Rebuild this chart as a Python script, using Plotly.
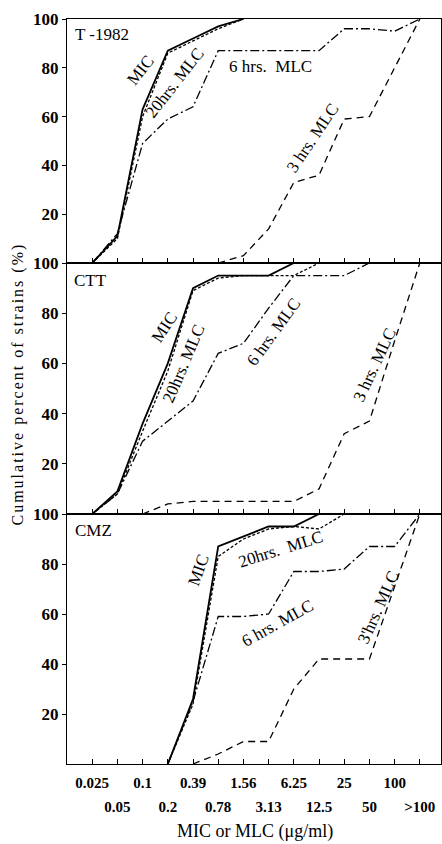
import plotly.graph_objects as go

# Concentration steps (two-fold dilutions) shown on the x axis
concentrations = ["0.025", "0.05", "0.1", "0.2", "0.39", "0.78", "1.56",
                  "3.13", "6.25", "12.5", "25", "50", "100", ">100"]
y_ticks = [20, 40, 60, 80, 100]

# Cumulative percent of strains per drug (None = no point at that step)
t1982_mic = [0, 11, 63, 87, 92, 97, 100]
t1982_mlc20 = [0, 10, 60, 86, 91, 96, 100]
t1982_mlc6 = [0, 12, 49, 59, 64, 87, 87, 87, 87, 87, 96, 96, 95, 100]
t1982_mlc3 = [None, None, None, None, None, 0, 3, 14, 33, 36, 59, 60, 80, 100]

ctt_mic = [0, 9, 36, 60, 90, 95, 95, 95, 100]
ctt_mlc20 = [0, 8, 33, 57, 89, 94, 95, 95, 95, 100]
ctt_mlc6 = [0, 8, 29, 37, 45, 64, 68, 82, 95, 95, 95, 100]
ctt_mlc3 = [None, None, 0, 4, 5, 5, 5, 5, 5, 10, 32, 37, 69, 100]

cmz_mic = [None, None, None, 0, 26, 87, 91, 95, 95, 100]
cmz_mlc20 = [None, None, None, 0, 24, 83, 90, 94, 95, 94, 100]
cmz_mlc6 = [None, None, None, 0, 25, 59, 59, 60, 77, 77, 78, 87, 87, 100]
cmz_mlc3 = [None, None, None, None, 0, 4, 9, 9, 30, 42, 42, 42, 71, 100]

panels = [
    ("T -1982", t1982_mic, t1982_mlc20, t1982_mlc6, t1982_mlc3),
    ("CTT", ctt_mic, ctt_mlc20, ctt_mlc6, ctt_mlc3),
    ("CMZ", cmz_mic, cmz_mlc20, cmz_mlc6, cmz_mlc3),
]

W, H = 442, 844
ML, MR, MT, MB = 67, 1, 19, 80
PW, PH = W - ML - MR, H - MT - MB
FONT = "Liberation Serif, Times New Roman, serif"

# panel boundaries in pixel rows (top, bottom)
bounds = [(19, 263), (263, 514), (514, 764)]


def py2paper(py):
    return (H - MB - py) / PH


def px2paper(px):
    return (px - ML) / PW


styles = [
    dict(width=1.8, dash="solid"),
    dict(width=1.3, dash="3px,2px"),
    dict(width=1.3, dash="9px,3px,2px,3px"),
    dict(width=1.3, dash="7px,5px"),
]

fig = go.Figure()
idx = list(range(len(concentrations)))
for p, (name, *series) in enumerate(panels):
    n = p + 1
    for s, st in zip(series, styles):
        fig.add_trace(go.Scatter(
            x=idx[:len(s)], y=s, mode="lines",
            line=dict(color="black", width=st["width"], dash=st["dash"]),
            connectgaps=False, showlegend=False, hoverinfo="skip",
            xaxis=f"x{n}", yaxis=f"y{n}",
        ))

# placeholder trace so the second label row axis is drawn
fig.add_trace(go.Scatter(x=[], y=[], xaxis="x4", yaxis="y3", showlegend=False))

xrange = [-1.0, 13.84]
tick_x_font = dict(family=FONT, size=15, color="black", weight="bold")
for p in range(3):
    n = p + 1
    top, bot = bounds[p]
    dom = [py2paper(bot), py2paper(top)]
    last = n == 3
    ticktext = [c if (i % 2 == 0) else "" for i, c in enumerate(concentrations)] if last else [""] * 14
    fig.update_layout(**{
        f"xaxis{n}": dict(
            range=xrange, domain=[0, 1], anchor=f"y{n}",
            tickmode="array", tickvals=idx, ticktext=ticktext,
            ticks="inside", ticklen=5, tickwidth=1, tickcolor="black",
            showline=True, linecolor="black", linewidth=1.3, mirror=True,
            showgrid=False, zeroline=False, ticklabelstandoff=5,
            tickfont=tick_x_font,
        ),
        f"yaxis{n}": dict(
            range=[0, 100], domain=dom, anchor=f"x{n}",
            tickmode="array", tickvals=y_ticks,
            ticks="outside", ticklen=4, tickwidth=1, tickcolor="black",
            showline=True, linecolor="black", linewidth=1.3, mirror=True,
            showgrid=False, zeroline=False,
            tickfont=dict(family=FONT, size=17, color="black", weight="bold"),
        ),
    })

fig.update_layout(xaxis4=dict(
    range=xrange, overlaying="x3", anchor="y3", side="bottom",
    tickmode="array", tickvals=[i for i in idx if i % 2 == 1],
    ticktext=[c for i, c in enumerate(concentrations) if i % 2 == 1],
    ticks="", showline=False, showgrid=False, zeroline=False,
    ticklabelstandoff=32,
    tickfont=tick_x_font,
))

labels = [
    # (text, px, py, angle, xanchor)
    ("T -1982", 73, 35, 0, "left"),
    ("MIC", 140, 70, -52, "center"),
    ("20hrs. MLC", 174, 83, -52, "center"),
    ("6 hrs.  MLC", 270, 67, 0, "center"),
    ("3 hrs. MLC", 312, 138, -56, "center"),
    ("CTT", 72, 280, 0, "left"),
    ("MIC", 164, 327, -57, "center"),
    ("20hrs. MLC", 183, 364, -67, "center"),
    ("6 hrs. MLC", 273, 332, -54, "center"),
    ("3 hrs. MLC", 374, 365, -65, "center"),
    ("CMZ", 73, 530, 0, "left"),
    ("MIC", 198, 570, -70, "center"),
    ("20hrs.  MLC", 280, 549, -17.5, "center"),
    ("6 hrs. MLC", 277, 623, -29, "center"),
    ("3'hrs. MLC", 378, 607, -66, "center"),
]
for text, px, py, ang, xa in labels:
    fig.add_annotation(
        text=text, x=px2paper(px), y=py2paper(py), xref="paper", yref="paper",
        xanchor=xa, yanchor="middle", textangle=ang, showarrow=False,
        font=dict(family=FONT, size=17, color="black"),
    )

fig.add_annotation(
    text="Cumulative percent of strains (%)", x=px2paper(17.5), y=py2paper(384),
    xref="paper", yref="paper", xanchor="center", yanchor="middle",
    textangle=-90, showarrow=False, font=dict(family=FONT, size=16, color="black"),
)
fig.add_annotation(
    text="MIC or MLC (\u03bcg/ml)", x=px2paper(254.5), y=py2paper(832),
    xref="paper", yref="paper", xanchor="center", yanchor="middle",
    showarrow=False, font=dict(family=FONT, size=18, color="black"),
)

fig.update_layout(
    width=W, height=H,
    margin=dict(l=ML, r=MR, t=MT, b=MB),
    paper_bgcolor="white", plot_bgcolor="white",
)

spacing_js = (
    "document.querySelectorAll('text').forEach(function(t){"
    "if(t.textContent.indexOf('Cumulative')===0){t.style.letterSpacing='2px';}});"
)
fig.write_html("out.html", post_script=spacing_js)
